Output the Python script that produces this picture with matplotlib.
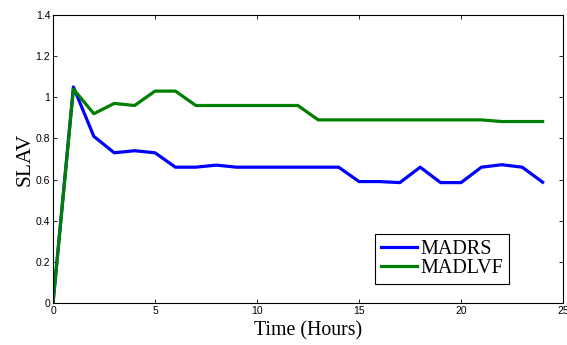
import numpy as np
import matplotlib.pyplot as plt

hours = np.arange(0, 25)
madrs = [0, 1.05, 0.81, 0.73, 0.74, 0.73, 0.66, 0.66, 0.67, 0.66, 0.66, 0.66, 0.66,
         0.66, 0.66, 0.59, 0.59, 0.585, 0.66, 0.585, 0.585, 0.66, 0.672, 0.66, 0.587]
madlvf = [0, 1.04, 0.92, 0.97, 0.96, 1.03, 1.03, 0.96, 0.96, 0.96, 0.96, 0.96, 0.96,
          0.89, 0.89, 0.89, 0.89, 0.89, 0.89, 0.89, 0.89, 0.89, 0.882, 0.882, 0.882]

fig = plt.figure(figsize=(5.67, 3.45), dpi=100)
ax = fig.add_axes([0.0935, 0.122, 0.8995, 0.8345])

ax.plot(hours, madrs, color='#0000ff', lw=2.3, label='MADRS')
ax.plot(hours, madlvf, color='#008000', lw=2.3, label='MADLVF')

ax.set_xlim(0, 25)
ax.set_ylim(0, 1.4)
ax.set_xticks([0, 5, 10, 15, 20, 25])
ax.set_yticks([0, 0.2, 0.4, 0.6, 0.8, 1.0, 1.2, 1.4])
ax.set_yticklabels(['0', '0.2', '0.4', '0.6', '0.8', '1', '1.2', '1.4'])
ax.tick_params(direction='in', top=True, right=True, length=3, width=0.6,
               labelsize=7.5, pad=2)
for lab in ax.get_xticklabels() + ax.get_yticklabels():
    lab.set_family('Liberation Sans')
for s in ax.spines.values():
    s.set_linewidth(0.8)

ax.set_xlabel('Time (Hours)', family='Liberation Serif', fontsize=14.3, labelpad=4)
ax.set_ylabel('SLAV', family='Liberation Serif', fontsize=15.5, labelpad=1)

leg = ax.legend(loc='lower right', bbox_to_anchor=(0.894, 0.066),
                prop={'family': 'Liberation Serif', 'size': 14.5},
                fancybox=False, framealpha=1, edgecolor='black',
                handlelength=1.8, handletextpad=0.15, borderpad=0.3,
                labelspacing=0.0, borderaxespad=0)
leg.get_frame().set_linewidth(0.8)

plt.savefig('out.png', dpi=100)
